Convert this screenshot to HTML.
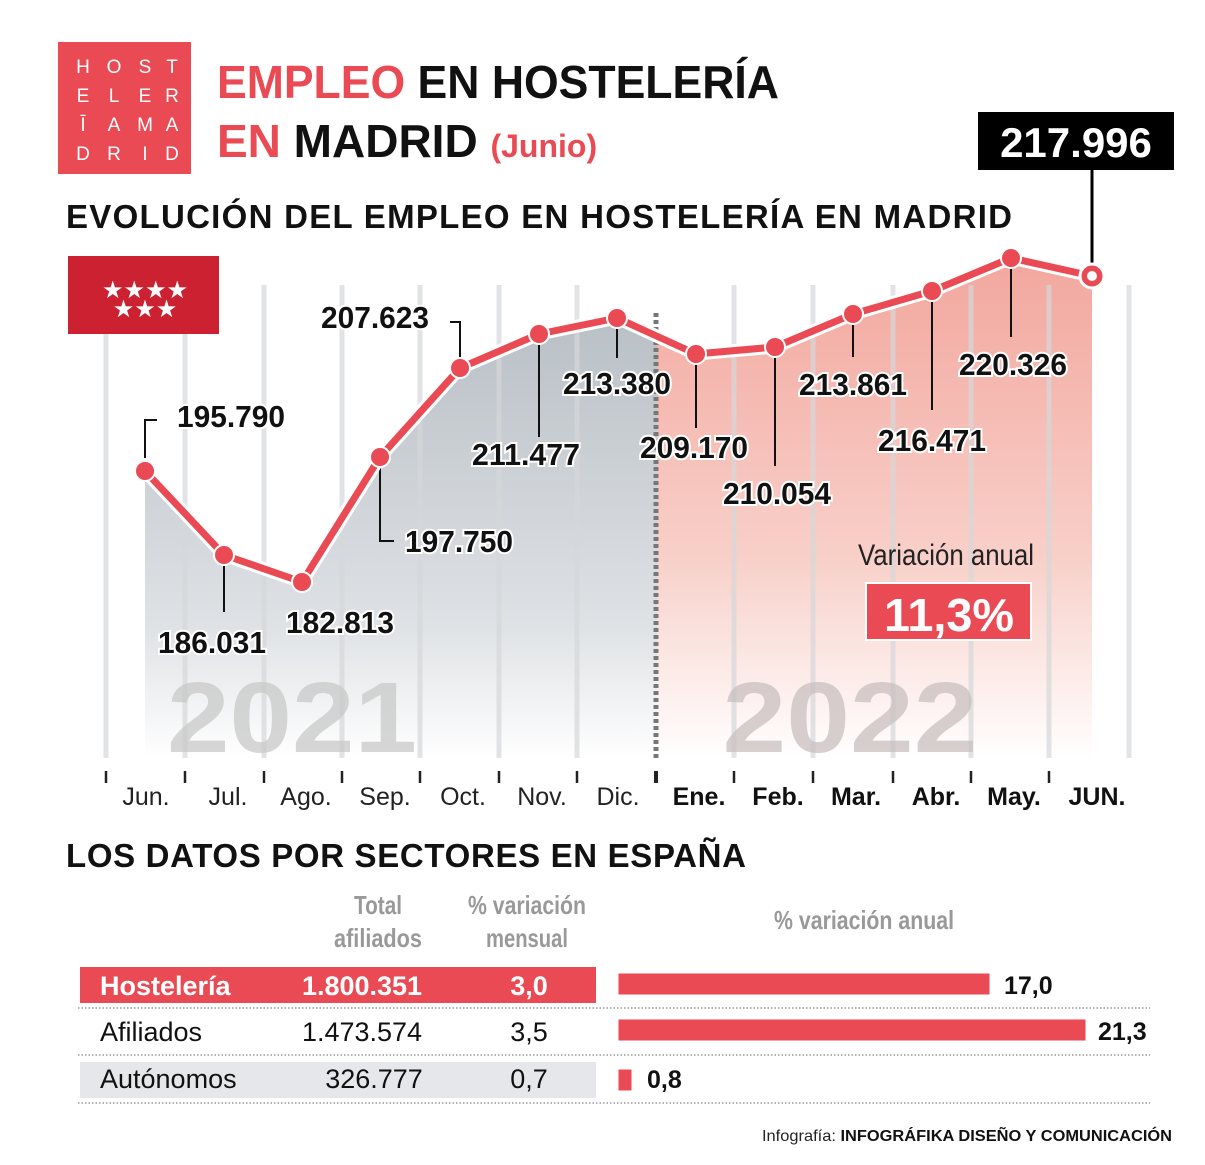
<!DOCTYPE html>
<html><head><meta charset="utf-8"><style>
html,body{margin:0;padding:0;background:#fff;}
svg{display:block;}
</style></head><body>
<svg width="1205" height="1165" viewBox="0 0 1205 1165" xmlns="http://www.w3.org/2000/svg" font-family="Liberation Sans, sans-serif">
<defs>
<linearGradient id="gg" x1="0" y1="0" x2="0" y2="1">
<stop offset="0" stop-color="#b9c0c6"/><stop offset="0.7" stop-color="#dfe2e5"/><stop offset="1" stop-color="#fff"/></linearGradient>
<linearGradient id="rg" x1="0" y1="0" x2="0" y2="1">
<stop offset="0" stop-color="#f2a79e"/><stop offset="0.6" stop-color="#f8d0c9"/><stop offset="1" stop-color="#fff"/></linearGradient>
</defs>
<!-- logo -->
<rect x="58" y="42" width="133" height="132" fill="#e94a53"/>
<g fill="#fff" font-size="19" text-anchor="middle">
<text x="83" y="73">H</text><text x="114" y="73">O</text><text x="145" y="73">S</text><text x="172" y="73">T</text>
<text x="83" y="102">E</text><text x="114" y="102">L</text><text x="145" y="102">E</text><text x="172" y="102">R</text>
<text x="83" y="131">Ī</text><text x="114" y="131">A</text><text x="145" y="131">M</text><text x="172" y="131">A</text>
<text x="83" y="160">D</text><text x="114" y="160">R</text><text x="145" y="160">I</text><text x="172" y="160">D</text>
</g>
<text x="217" y="98" font-size="46" font-weight="bold" fill="#111" textLength="562" lengthAdjust="spacingAndGlyphs"><tspan fill="#e94a53">EMPLEO</tspan> EN HOSTELERÍA</text>
<text x="217" y="157" font-size="46" font-weight="bold" fill="#111"><tspan fill="#e94a53">EN</tspan> MADRID <tspan fill="#e94a53" font-size="32">(Junio)</tspan></text>
<text x="66" y="228" font-size="33" font-weight="bold" fill="#111" textLength="946">EVOLUCIÓN DEL EMPLEO EN HOSTELERÍA EN MADRID</text>
<!-- big value -->
<rect x="978" y="112" width="196" height="58" fill="#000"/>
<text x="1076" y="157" font-size="42" font-weight="bold" fill="#fff" text-anchor="middle">217.996</text>
<line x1="1092" y1="170" x2="1092" y2="272" stroke="#000" stroke-width="3"/>
<!-- areas -->
<path d="M145,471 L224,555 L302,582 L380,457 L460,368 L539,334 L617,318 L657,336 L657,760 L145,760Z" fill="url(#gg)"/>
<path d="M657,336 L696,354 L775,347 L853,314 L932,291 L1011,258 L1092,276 L1092,760 L657,760Z" fill="url(#rg)"/>
<!-- grid -->
<g stroke="#d6d8da" stroke-width="5" opacity="0.7">
<line x1="106" y1="285" x2="106" y2="758"/><line x1="185" y1="285" x2="185" y2="758"/><line x1="264" y1="285" x2="264" y2="758"/><line x1="342" y1="285" x2="342" y2="758"/><line x1="420" y1="285" x2="420" y2="758"/><line x1="499" y1="285" x2="499" y2="758"/><line x1="577" y1="285" x2="577" y2="758"/>
<line x1="734" y1="285" x2="734" y2="758"/><line x1="813" y1="285" x2="813" y2="758"/><line x1="893" y1="285" x2="893" y2="758"/><line x1="971" y1="285" x2="971" y2="758"/><line x1="1049" y1="285" x2="1049" y2="758"/><line x1="1129" y1="285" x2="1129" y2="758"/>
</g>
<!-- flag -->
<rect x="68" y="256" width="151" height="78" fill="#cb2130"/>
<text x="145" y="298" font-size="24" fill="#fff" text-anchor="middle">★★★★</text>
<text x="145" y="317" font-size="24" fill="#fff" text-anchor="middle">★★★</text>
<text x="292" y="752" font-size="100" font-weight="bold" fill="#c9c9c9" opacity="0.75" text-anchor="middle" textLength="250" lengthAdjust="spacingAndGlyphs">2021</text>
<text x="850" y="752" font-size="100" font-weight="bold" fill="#c9c0bf" opacity="0.75" text-anchor="middle" textLength="255" lengthAdjust="spacingAndGlyphs">2022</text>
<line x1="656" y1="313" x2="656" y2="760" stroke="#777" stroke-width="5" stroke-dasharray="4,3"/>
<!-- ticks -->
<g stroke="#222" stroke-width="2.5">
<line x1="106" y1="771" x2="106" y2="783"/><line x1="185" y1="771" x2="185" y2="783"/><line x1="264" y1="771" x2="264" y2="783"/><line x1="342" y1="771" x2="342" y2="783"/><line x1="420" y1="771" x2="420" y2="783"/><line x1="499" y1="771" x2="499" y2="783"/><line x1="577" y1="771" x2="577" y2="783"/>
<line x1="656" y1="771" x2="656" y2="783" stroke-width="4"/><line x1="734" y1="771" x2="734" y2="783"/><line x1="813" y1="771" x2="813" y2="783"/><line x1="893" y1="771" x2="893" y2="783"/><line x1="971" y1="771" x2="971" y2="783"/><line x1="1049" y1="771" x2="1049" y2="783"/>
</g>
<g font-size="25" fill="#222" text-anchor="middle">
<text x="146" y="805">Jun.</text><text x="228" y="805">Jul.</text><text x="306" y="805">Ago.</text><text x="385" y="805">Sep.</text><text x="463" y="805">Oct.</text><text x="542" y="805">Nov.</text><text x="618" y="805">Dic.</text>
</g>
<g font-size="25" font-weight="bold" fill="#111" text-anchor="middle">
<text x="699" y="805">Ene.</text><text x="778" y="805">Feb.</text><text x="856" y="805">Mar.</text><text x="936" y="805">Abr.</text><text x="1014" y="805">May.</text><text x="1097" y="805">JUN.</text>
</g>
<!-- leader lines -->
<g stroke="#111" stroke-width="2" fill="none">
<path d="M145,458 V420 H157"/><path d="M224,560 V612"/><path d="M380,462 V541 H394"/><path d="M460,362 V322 H450"/><path d="M539,340 V437"/><path d="M617,322 V358"/><path d="M696,358 V428"/><path d="M775,352 V466"/><path d="M853,318 V357"/><path d="M932,296 V410"/><path d="M1011,262 V337"/>
</g>
<!-- line -->
<polyline points="145,471 224,555 302,582 380,457 460,368 539,334 617,318 696,354 775,347 853,314 932,291 1011,258 1092,276" fill="none" stroke="#fff" stroke-width="13" stroke-linejoin="round"/>
<polyline points="145,471 224,555 302,582 380,457 460,368 539,334 617,318 696,354 775,347 853,314 932,291 1011,258 1092,276" fill="none" stroke="#e94a53" stroke-width="7" stroke-linejoin="round"/>
<g fill="#e94a53" stroke="#fff" stroke-width="2">
<circle cx="145" cy="471" r="10"/><circle cx="224" cy="555" r="10"/><circle cx="302" cy="582" r="10"/><circle cx="380" cy="457" r="10"/><circle cx="460" cy="368" r="10"/><circle cx="539" cy="334" r="10"/><circle cx="617" cy="318" r="10"/><circle cx="696" cy="354" r="10"/><circle cx="775" cy="347" r="10"/><circle cx="853" cy="314" r="10"/><circle cx="932" cy="291" r="10"/><circle cx="1011" cy="258" r="10"/>
</g>
<circle cx="1092" cy="276" r="12" fill="#e94a53" stroke="#fff" stroke-width="3"/>
<circle cx="1092" cy="276" r="5" fill="#fff"/>
<!-- value labels -->
<g font-size="31" font-weight="bold" fill="#111" stroke="#fff" stroke-width="4" paint-order="stroke" text-anchor="middle">
<text x="231" y="427" textLength="108" lengthAdjust="spacingAndGlyphs">195.790</text>
<text x="212" y="653" textLength="108" lengthAdjust="spacingAndGlyphs">186.031</text>
<text x="340" y="633" textLength="108" lengthAdjust="spacingAndGlyphs">182.813</text>
<text x="459" y="552" textLength="108" lengthAdjust="spacingAndGlyphs">197.750</text>
<text x="375" y="328" textLength="108" lengthAdjust="spacingAndGlyphs">207.623</text>
<text x="526" y="465" textLength="108" lengthAdjust="spacingAndGlyphs">211.477</text>
<text x="617" y="394" textLength="108" lengthAdjust="spacingAndGlyphs">213.380</text>
<text x="694" y="458" textLength="108" lengthAdjust="spacingAndGlyphs">209.170</text>
<text x="777" y="504" textLength="108" lengthAdjust="spacingAndGlyphs">210.054</text>
<text x="853" y="395" textLength="108" lengthAdjust="spacingAndGlyphs">213.861</text>
<text x="932" y="451" textLength="108" lengthAdjust="spacingAndGlyphs">216.471</text>
<text x="1013" y="375" textLength="108" lengthAdjust="spacingAndGlyphs">220.326</text>
</g>
<text x="946" y="565" font-size="30" fill="#222" text-anchor="middle" textLength="176" lengthAdjust="spacingAndGlyphs">Variación anual</text>
<rect x="866" y="583" width="165" height="57" fill="#e94a53" stroke="#fff" stroke-width="2"/>
<text x="949" y="631" font-size="46" font-weight="bold" fill="#fff" text-anchor="middle" textLength="130" lengthAdjust="spacingAndGlyphs">11,3%</text>
<!-- table -->
<text x="66" y="867" font-size="33" font-weight="bold" fill="#111" textLength="680">LOS DATOS POR SECTORES EN ESPAÑA</text>
<g font-size="26" font-weight="bold" fill="#999" text-anchor="middle">
<text x="378" y="914" textLength="48" lengthAdjust="spacingAndGlyphs">Total</text>
<text x="378" y="947" textLength="88" lengthAdjust="spacingAndGlyphs">afiliados</text>
<text x="527" y="914" textLength="118" lengthAdjust="spacingAndGlyphs">% variación</text>
<text x="527" y="947" textLength="82" lengthAdjust="spacingAndGlyphs">mensual</text>
<text x="864" y="929" textLength="180" lengthAdjust="spacingAndGlyphs">% variación anual</text>
</g>
<rect x="80" y="967" width="516" height="36" fill="#e94a53"/>
<rect x="80" y="1062" width="516" height="36" fill="#e5e7ea"/>
<g stroke="#999" stroke-width="1.5" stroke-dasharray="1.5,2">
<line x1="78" y1="1008" x2="1150" y2="1008"/><line x1="78" y1="1055" x2="1150" y2="1055"/><line x1="78" y1="1103" x2="1150" y2="1103"/>
</g>
<g font-size="27">
<text x="100" y="995" fill="#fff" font-weight="bold">Hostelería</text>
<text x="362" y="995" fill="#fff" font-weight="bold" text-anchor="middle">1.800.351</text>
<text x="529" y="995" fill="#fff" font-weight="bold" text-anchor="middle">3,0</text>
<text x="100" y="1041" fill="#111">Afiliados</text>
<text x="362" y="1041" fill="#111" text-anchor="middle">1.473.574</text>
<text x="529" y="1041" fill="#111" text-anchor="middle">3,5</text>
<text x="100" y="1088" fill="#111">Autónomos</text>
<text x="374" y="1088" fill="#111" text-anchor="middle">326.777</text>
<text x="529" y="1088" fill="#111" text-anchor="middle">0,7</text>
</g>
<g fill="#e94a53" stroke="#fff" stroke-width="3">
<rect x="617" y="972" width="374" height="24"/>
<rect x="617" y="1018" width="470" height="24"/>
<rect x="617" y="1068" width="16" height="24"/>
</g>
<g font-size="25" font-weight="bold" fill="#111">
<text x="1004" y="994">17,0</text><text x="1098" y="1040">21,3</text><text x="647" y="1088">0,8</text>
</g>
<text x="762" y="1141" font-size="16" fill="#222" textLength="410" lengthAdjust="spacingAndGlyphs">Infografía: <tspan font-weight="bold" fill="#111">INFOGRÁFIKA DISEÑO Y COMUNICACIÓN</tspan></text>
</svg>
</body></html>
